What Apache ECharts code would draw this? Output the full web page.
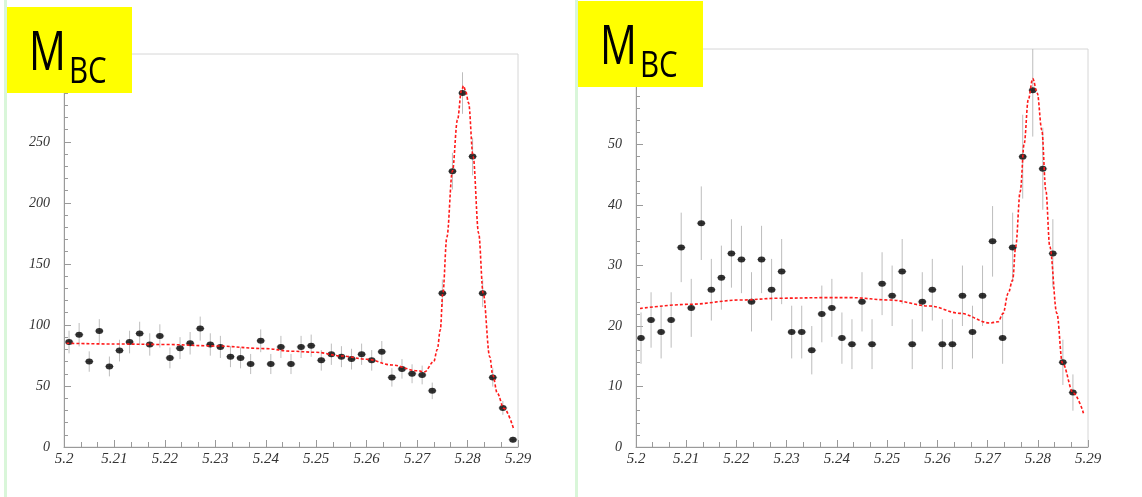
<!DOCTYPE html>
<html>
<head>
<meta charset="utf-8">
<script src="https://cdn.jsdelivr.net/npm/echarts@6/dist/echarts.min.js"></script>
<style>
html,body{margin:0;padding:0;background:#fff;}
#c{width:1142px;height:497px;}
</style>
</head>
<body>
<div id="c"></div>
<script>
// ---- data ----
const binCenters = [5.201,5.203,5.205,5.207,5.209,5.211,5.213,5.215,5.217,5.219,
  5.221,5.223,5.225,5.227,5.229,5.231,5.233,5.235,5.237,5.239,
  5.241,5.243,5.245,5.247,5.249,5.251,5.253,5.255,5.257,5.259,
  5.261,5.263,5.265,5.267,5.269,5.271,5.273,5.275,5.277,5.279,
  5.281,5.283,5.285,5.287,5.289];
const leftCounts = [86,92,70,95,66,79,86,93,84,91,73,81,85,97,84,82,74,73,68,87,
  68,82,68,82,83,71,76,74,72,76,71,78,57,64,60,59,46,126,226,290,238,126,57,32,6];
const rightCounts = [18,21,19,21,33,23,37,26,28,32,31,24,31,26,29,19,19,16,22,23,
  18,17,24,17,27,25,29,17,24,26,17,17,25,19,25,34,18,33,48,59,46,32,14,9,null];

const leftFitX = [5.2005,5.21,5.22,5.23,5.24,5.245,5.25,5.255,5.26,5.265,5.27,5.2715,5.2733,5.274,5.2746,5.2751,5.2759,5.277,5.278,5.2788,5.2792,5.2796,5.2802,5.2811,5.2822,5.2831,5.2844,5.285,5.2859,5.2872,5.2891];
const leftFitY = [85,84.4,84,82.8,80.6,78.5,77.6,74.6,71.9,67.2,62.5,61.7,70,80,96,126,172,226,268,292,296,292,282,238,175,126,74,59,44,31.7,15.3];
const rightFitX = [5.2008,5.2108,5.2207,5.2287,5.2386,5.2426,5.2506,5.2585,5.2645,5.2705,5.2721,5.2731,5.2741,5.275,5.2756,5.2765,5.2773,5.2781,5.279,5.2799,5.2808,5.2816,5.2824,5.2838,5.2849,5.2871,5.2891];
const rightFitY = [22.9,23.6,24.3,24.6,24.7,24.7,24.3,23.3,22.1,20.5,20.7,22.1,25.4,27.6,33.1,42.2,50.2,57.4,60.9,58.5,52.4,42.5,33.1,22.1,13.9,8.9,5.6];

const xTickLabels = ['5.2','5.21','5.22','5.23','5.24','5.25','5.26','5.27','5.28','5.29'];
const leftYLabels = ['0','50','100','150','200','250'];
const rightYLabels = ['0','10','20','30','40','50'];
const panelTitleMain = 'M';
const panelTitleSub = 'BC';

// ---- build options ----
const K = 1000; // axis works in units of 0.001 to keep ticks exact
function pts(xs, ys){ return xs.map((x,i)=>[x*K, ys[i]]); }
function errPts(xs, ys){ return xs.map((x,i)=> ys[i]==null ? [x*K, null, null] : [x*K, ys[i], Math.sqrt(ys[i])]); }

const labelFont = {color:'#333', fontFamily:'Liberation Serif', fontStyle:'italic'};

function xAxis(gi){
  return {type:'value', gridIndex:gi, min:5200, max:5290, interval:10,
    axisLine:{show:true, lineStyle:{color:'#9a9a9a', width:1}},
    axisTick:{show:true, inside:true, length:7, lineStyle:{color:'#9a9a9a'}},
    minorTick:{show:true, splitNumber:3, length:5, lineStyle:{color:'#9a9a9a'}},
    splitLine:{show:false},
    axisLabel:Object.assign({fontSize:15, margin:5, formatter:(v)=>{const i=Math.round((v-5200)/10); return xTickLabels[i]||'';}}, labelFont)
  };
}
function yAxis(gi, max, interval, labels){
  return {type:'value', gridIndex:gi, min:0, max:max, interval:interval,
    axisLine:{show:true, lineStyle:{color:'#9a9a9a', width:1}},
    axisTick:{show:true, inside:true, length:7, lineStyle:{color:'#9a9a9a'}},
    minorTick:{show:true, splitNumber:5, length:4, lineStyle:{color:'#9a9a9a'}},
    splitLine:{show:false},
    axisLabel:Object.assign({fontSize:14, margin:14, showMaxLabel:false,
      formatter:(v)=>{const i = v/interval; return (Math.abs(i-Math.round(i))<1e-6 && labels[Math.round(i)]) ? labels[Math.round(i)] : '';}}, labelFont)
  };
}

function errRender(params, api){
  const y = api.value(1);
  if (y == null || isNaN(y)) return null;
  const x = api.value(0), e = api.value(2);
  const top = api.coord([x, y + e]);
  const bot = api.coord([x, Math.max(0, y - e)]);
  const c = api.coord([x, y]);
  const st = {stroke:'#bdbdbd', lineWidth:1};
  return {type:'group', children:[
    {type:'line', shape:{x1:top[0], y1:top[1], x2:bot[0], y2:bot[1]}, style:st},
    {type:'line', shape:{x1:c[0]-4.5, y1:c[1], x2:c[0]+4.5, y2:c[1]}, style:st}
  ]};
}

function panelSeries(gi, counts, fx, fy){
  return [
    {type:'custom', xAxisIndex:gi, yAxisIndex:gi, renderItem:errRender, clip:true,
      data:errPts(binCenters, counts), z:2, silent:true},
    {type:'scatter', xAxisIndex:gi, yAxisIndex:gi, symbol:'circle', symbolSize:[7.5,6],
      itemStyle:{color:'#000'}, data:pts(binCenters, counts).filter(p=>p[1]!=null), z:3, silent:true},
    {type:'line', xAxisIndex:gi, yAxisIndex:gi, data:pts(fx, fy), showSymbol:false, symbol:'none',
      smooth:0.35, smoothMonotone:'x',
      lineStyle:{color:'#ff1a1a', width:1.6, type:[3,2]}, z:4, silent:true}
  ];
}

function titleBox(bx, by){
  return [
    {type:'rect', shape:{x:bx, y:by, width:125, height:86}, style:{fill:'#ffff00'}, z:100},
    {type:'text', x:bx+22, y:by+48, scaleX:0.76, z:101,
      style:{text:panelTitleMain, x:0, y:0, fill:'#000', fontSize:54, fontFamily:'Open Sans', textVerticalAlign:'middle', textAlign:'left'}},
    {type:'text', x:bx+62, y:by+65, scaleX:0.8, z:101,
      style:{text:panelTitleSub, x:0, y:0, fill:'#000', fontSize:37, fontFamily:'Open Sans', textVerticalAlign:'middle', textAlign:'left'}}
  ];
}

const option = {
  backgroundColor:'#ffffff',
  animation:false,
  grid:[
    {left:64, top:54, width:454, height:393, show:true, borderColor:'#d6d6d6', borderWidth:1, backgroundColor:'transparent'},
    {left:636, top:49, width:452, height:398, show:true, borderColor:'#d6d6d6', borderWidth:1, backgroundColor:'transparent'}
  ],
  xAxis:[xAxis(0), xAxis(1)],
  yAxis:[yAxis(0, 322, 50, leftYLabels), yAxis(1, 65.8, 10, rightYLabels)],
  series:[].concat(panelSeries(0, leftCounts, leftFitX, leftFitY), panelSeries(1, rightCounts, rightFitX, rightFitY)),
  graphic:[].concat(
    [{type:'rect', shape:{x:4, y:0, width:3, height:497}, style:{fill:'#d9f6d9'}, z:90},
     {type:'rect', shape:{x:575, y:0, width:3, height:497}, style:{fill:'#d9f6d9'}, z:90}],
    titleBox(7, 7), titleBox(578, 1)
  )
};

const chart = echarts.init(document.getElementById('c'), null, {renderer:'canvas'});
chart.setOption(option);
</script>
</body>
</html>
